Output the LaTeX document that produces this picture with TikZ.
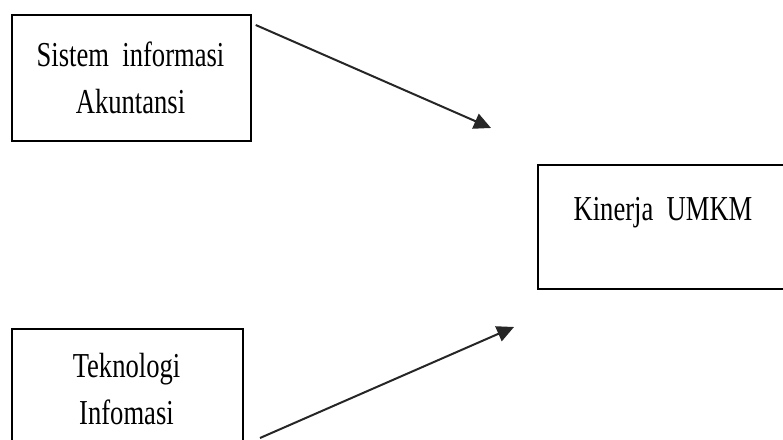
\documentclass[tikz,border=0pt]{standalone}
\usepackage{fontspec}
\setmainfont{Liberation Serif}[FakeStretch=0.76]
\usetikzlibrary{arrows.meta,calc}
\begin{document}
\begin{tikzpicture}[x=1pt,y=1pt,
  box/.style={draw=black, line width=1.7pt, inner sep=0pt, fill=white},
  lbl/.style={font=\fontsize{35}{47}\selectfont, align=center, inner sep=0pt},
  conn/.style={draw=black!85, line width=2pt, -{Triangle[length=17pt,width=16pt]}}]
\clip (0,0) rectangle (783,439);
\useasboundingbox (0,0) rectangle (783,439);
% boxes (y = 439 - pixel row)
\node[box, minimum width=239pt, minimum height=126pt, anchor=north west] (b1) at (11,425) {};
\node[box, minimum width=231pt, minimum height=140pt, anchor=north west] (b2) at (11,111) {};
\node[box, minimum width=252pt, minimum height=124pt, anchor=north west] (b3) at (537,275) {};
% texts
\node[lbl] (t1) at (130.5,361) {Sistem\ \ informasi\\Akuntansi};
\node[lbl] (t2) at (126.5,50) {Teknologi\\Infomasi};
\node[lbl] (t3) at (663,226) {Kinerja\ \ UMKM};
% connector end points
\coordinate (s1) at ($(b1.north east)+(4,-11)$);
\coordinate (e1) at (491,311);
\coordinate (s2) at (260,1);
\coordinate (e2) at (514,112);
\draw[conn] (s1) -- (e1);
\draw[conn] (s2) -- (e2);
\end{tikzpicture}
\end{document}
